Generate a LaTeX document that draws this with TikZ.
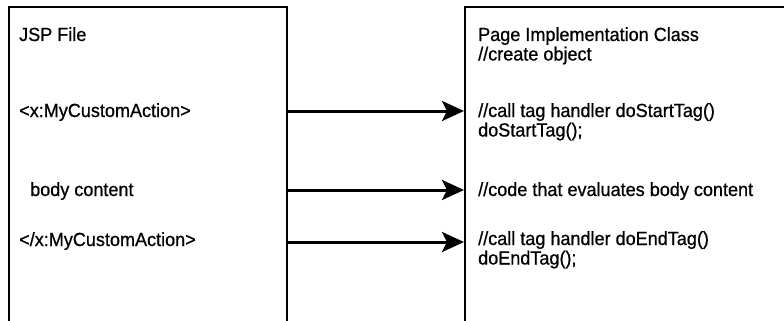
\documentclass[tikz,border=0pt]{standalone}
\usepackage{fontspec}
\setmainfont{Liberation Sans}[FakeBold=0.7,FakeStretch=0.95]
\usetikzlibrary{arrows.meta}
\begin{document}
\begin{tikzpicture}[x=1pt,y=-1pt,
  lbl/.style={anchor=base west,inner sep=0pt,font=\fontsize{19}{20}\selectfont},
  boxline/.style={line width=2pt,black},
  conn/.style={line width=3pt,-{Stealth[length=22pt,width=20pt,inset=5pt]}}]
\useasboundingbox (0,0) rectangle (784,321);
% left box (open at the bottom)
\draw[boxline] (9,321) -- (9,7) -- (287,7) -- (287,321);
% right box (open at bottom and right)
\draw[boxline] (465,321) -- (465,7) -- (784,7);
% left texts
\node[lbl] (jsp) at (19,41) {JSP File};
\node[lbl] (open) at (19,117) {<x:MyCustomAction>};
\node[lbl] (body) at (30,196) {body content};
\node[lbl] (close) at (19,246) {</x:MyCustomAction>};
% right texts
\node[lbl] (pic) at (478,41) {Page Implementation Class};
\node[lbl] (create) at (478,60.5) {//create object};
\node[lbl] (start) at (478,117) {//call tag handler doStartTag()};
\node[lbl] (start2) at (478,136.5) {doStartTag();};
\node[lbl] (code) at (478,196) {//code that evaluates body content};
\node[lbl] (end) at (478,245) {//call tag handler doEndTag()};
\node[lbl] (end2) at (478,264.5) {doEndTag();};
% connector ends on the box edges
\coordinate (s1) at (287,111); \coordinate (e1) at (464,111);
\coordinate (s2) at (287,190); \coordinate (e2) at (464,190);
\coordinate (s3) at (287,242); \coordinate (e3) at (464,242);
\draw[conn] (s1) -- (e1);
\draw[conn] (s2) -- (e2);
\draw[conn] (s3) -- (e3);
\end{tikzpicture}
\end{document}
